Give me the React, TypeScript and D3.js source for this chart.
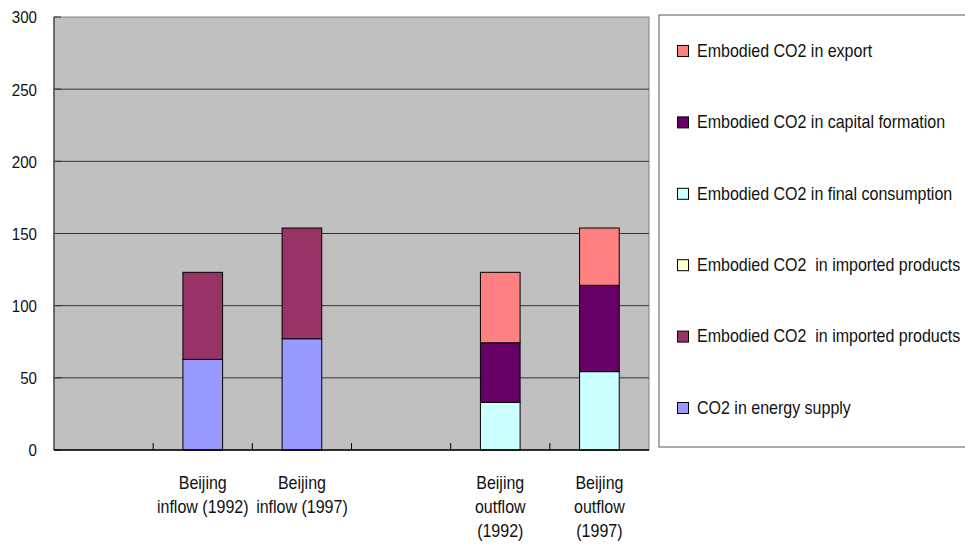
import React from "react";
import * as d3 from "d3";

const categories = ["gap1", "inflow1992", "inflow1997", "gap2", "outflow1992", "outflow1997"];
const categoryLabels = [[], ["Beijing", "inflow (1992)"], ["Beijing", "inflow (1997)"], [], ["Beijing", "outflow", "(1992)"], ["Beijing", "outflow", "(1997)"]];
const seriesNames = [
  "CO2 in energy supply",
  "Embodied CO2  in imported products",
  "Embodied CO2  in imported products ",
  "Embodied CO2 in final consumption",
  "Embodied CO2 in capital formation",
  "Embodied CO2 in export",
];
const seriesColors = ["#9999FF", "#993366", "#FFFFCC", "#CCFFFF", "#660066", "#FF8080"];
const energySupply = [0, 62.8, 77.1, 0, 0, 0];
const importedA = [0, 60.3, 76.7, 0, 0, 0];
const importedB = [0, 0, 0, 0, 0, 0];
const finalConsumption = [0, 0, 0, 0, 33.0, 54.3];
const capitalFormation = [0, 0, 0, 0, 41.3, 59.8];
const exportCO2 = [0, 0, 0, 0, 48.8, 39.7];
const yTicks = [0, 50, 100, 150, 200, 250, 300];

const seriesValues = [energySupply, importedA, importedB, finalConsumption, capitalFormation, exportCO2];

const FONT = "'Liberation Sans', Arial, sans-serif";
const SX = 0.89;

function NText({ x, y, size, anchor = "start", baseline, children }: any) {
  return (
    <text
      transform={`translate(${x},${y}) scale(${SX},1)`}
      textAnchor={anchor}
      dominantBaseline={baseline}
      fontSize={size}
      fill="#111"
      style={{ whiteSpace: "pre" }}
    >
      {children}
    </text>
  );
}

export default function App() {
  const W = 965, H = 550;
  const left = 54, right = 649, top = 17, bottom = 450;
  const x = d3.scaleBand<string>().domain(categories).range([left, right]).paddingInner(0.6).paddingOuter(0.3);
  const xOuter = d3.scaleBand<string>().domain(categories).range([left, right]);
  const y = d3.scaleLinear().domain([0, 300]).range([bottom, top]);

  const rows = categories.map((c, i) => {
    const r: any = { cat: c };
    seriesNames.forEach((s, j) => (r[s] = seriesValues[j][i]));
    return r;
  });
  const stack = d3.stack<any>().keys(seriesNames)(rows);

  const legendItems = seriesNames.map((n, i) => ({ name: n.trimEnd(), color: seriesColors[i] })).reverse();
  const legendY = d3.scalePoint<number>().domain(d3.range(legendItems.length)).range([51, 408]);

  return (
    <svg width={W} height={H} style={{ position: "absolute", left: 0, top: 0, background: "#fff" }} fontFamily={FONT}>
      <rect x={left} y={top} width={right - left} height={bottom - top} fill="#C0C0C0" stroke="#808080" strokeWidth={1} />
      {yTicks.map((t) => (
        <g key={t}>
          {t > 0 && t < 300 && <line x1={left} x2={right} y1={y(t)} y2={y(t)} stroke="#333" strokeWidth={1} />}
          <line x1={left} x2={left + 7} y1={y(t)} y2={y(t)} stroke="#333" />
          <NText x={37} y={y(t)} size={17} anchor="end" baseline="central">{t}</NText>
        </g>
      ))}
      {stack.map((layer, j) => (
        <g key={j} fill={seriesColors[j]}>
          {layer.map((d, i) =>
            d[1] - d[0] > 0 ? (
              <rect key={i} x={x(categories[i])} y={y(d[1])} width={x.bandwidth()} height={y(d[0]) - y(d[1])} stroke="#000" strokeWidth={1} />
            ) : null
          )}
        </g>
      ))}
      <line x1={left} x2={left} y1={top} y2={bottom} stroke="#555" strokeWidth={1.5} />
      <line x1={left} x2={right} y1={bottom} y2={bottom} stroke="#000" strokeWidth={1.5} />
      {categories.slice(1).map((c) => (
        <line key={c} x1={xOuter(c)} x2={xOuter(c)} y1={bottom} y2={bottom - 7} stroke="#000" />
      ))}
      {categories.map((c, i) =>
        categoryLabels[i].map((l, k) => (
          <NText key={c + k} x={xOuter(c)! + xOuter.bandwidth() / 2} y={489 + k * 24} size={18} anchor="middle">{l}</NText>
        ))
      )}
      <rect x={659} y={15} width={320} height={432} fill="#fff" stroke="#555" strokeWidth={1} />
      {legendItems.map((it, i) => (
        <g key={i}>
          <rect x={677.5} y={legendY(i)! - 5.5} width={11} height={11} fill={it.color} stroke="#000" strokeWidth={1} />
          <NText x={697} y={legendY(i)!} size={18} baseline="central">{it.name}</NText>
        </g>
      ))}
    </svg>
  );
}
